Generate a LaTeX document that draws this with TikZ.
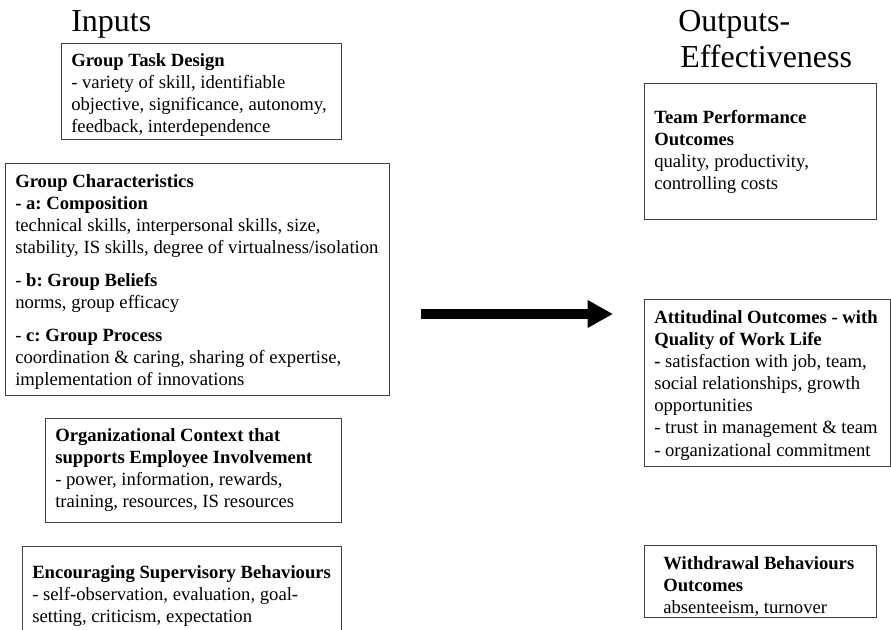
\documentclass[tikz,border=0pt]{standalone}
\usepackage{fontspec}
\setmainfont{Liberation Serif}
\frenchspacing
\usetikzlibrary{arrows.meta}
\begin{document}
\begin{tikzpicture}[x=0.75pt,y=-0.75pt,
  boxst/.style={draw=black!75,line width=0.8pt,inner sep=0pt,anchor=north west},
  txt/.style={anchor=north west,inner sep=0pt,align=left,font=\fontsize{14pt}{16.6pt}\selectfont},
  ttl/.style={anchor=north west,inner sep=0pt,align=left,font=\fontsize{24pt}{27pt}\selectfont}]
\useasboundingbox (0,0) rectangle (891,630);
\clip (0,0) rectangle (891,630);
% titles
\node[ttl] (tin) at (71,10) {Inputs};
\node[ttl] (tout) at (678,10) {Outputs-\\\hspace*{1.5pt}Effectiveness};
% boxes
\node[boxst,minimum width=280*0.75pt,minimum height=96*0.75pt] (b1) at (61,43) {};
\node[txt] (t1) at (71,53) {\textbf{Group Task Design}\\- variety of skill, identifiable\\objective, significance, autonomy,\\feedback, interdependence};
\node[boxst,minimum width=384*0.75pt,minimum height=232*0.75pt] (b2) at (5,163) {};
\node[txt] (t2) at (15,174) {\textbf{Group Characteristics}\\\textbf{- a: Composition}\\technical skills, interpersonal skills, size,\\stability, IS skills, degree of virtualness/isolation\\[8pt]- \textbf{b: Group Beliefs}\\norms, group efficacy\\[8pt]- \textbf{c: Group Process}\\coordination \& caring, sharing of expertise,\\implementation of innovations};
\node[boxst,minimum width=296*0.75pt,minimum height=104*0.75pt] (b3) at (45,418) {};
\node[txt] (t3) at (55,428) {\textbf{Organizational Context that}\\\textbf{supports Employee Involvement}\\- power, information, rewards,\\training, resources, IS resources};
\node[boxst,minimum width=319*0.75pt,minimum height=110*0.75pt] (b4) at (22,546) {};
\node[txt] (t4) at (32,565) {\textbf{Encouraging Supervisory Behaviours}\\- self-observation, evaluation, goal-\\setting, criticism, expectation};
\node[boxst,minimum width=232*0.75pt,minimum height=136*0.75pt] (b5) at (644,83) {};
\node[txt] (t5) at (654,110) {\textbf{Team Performance}\\\textbf{Outcomes}\\quality, productivity,\\controlling costs};
\node[boxst,minimum width=246*0.75pt,minimum height=167*0.75pt] (b6) at (644,299) {};
\node[txt] (t6) at (654,310) {\textbf{Attitudinal Outcomes - with}\\\textbf{Quality of Work Life}\\\textbf{-} satisfaction with job, team,\\social relationships, growth\\opportunities\\- trust in management \& team\\- organizational commitment};
\node[boxst,minimum width=232*0.75pt,minimum height=72*0.75pt] (b7) at (644,545) {};
\node[txt] (t7) at (663,556) {\textbf{Withdrawal Behaviours}\\\textbf{Outcomes}\\absenteeism, turnover};
% arrow
\coordinate (as) at (421,314);
\coordinate (ae) at (613,314);
\draw[line width=7.5pt,-{Triangle[length=19pt,width=19.5pt]}] (as) -- (ae);
\end{tikzpicture}
\end{document}
